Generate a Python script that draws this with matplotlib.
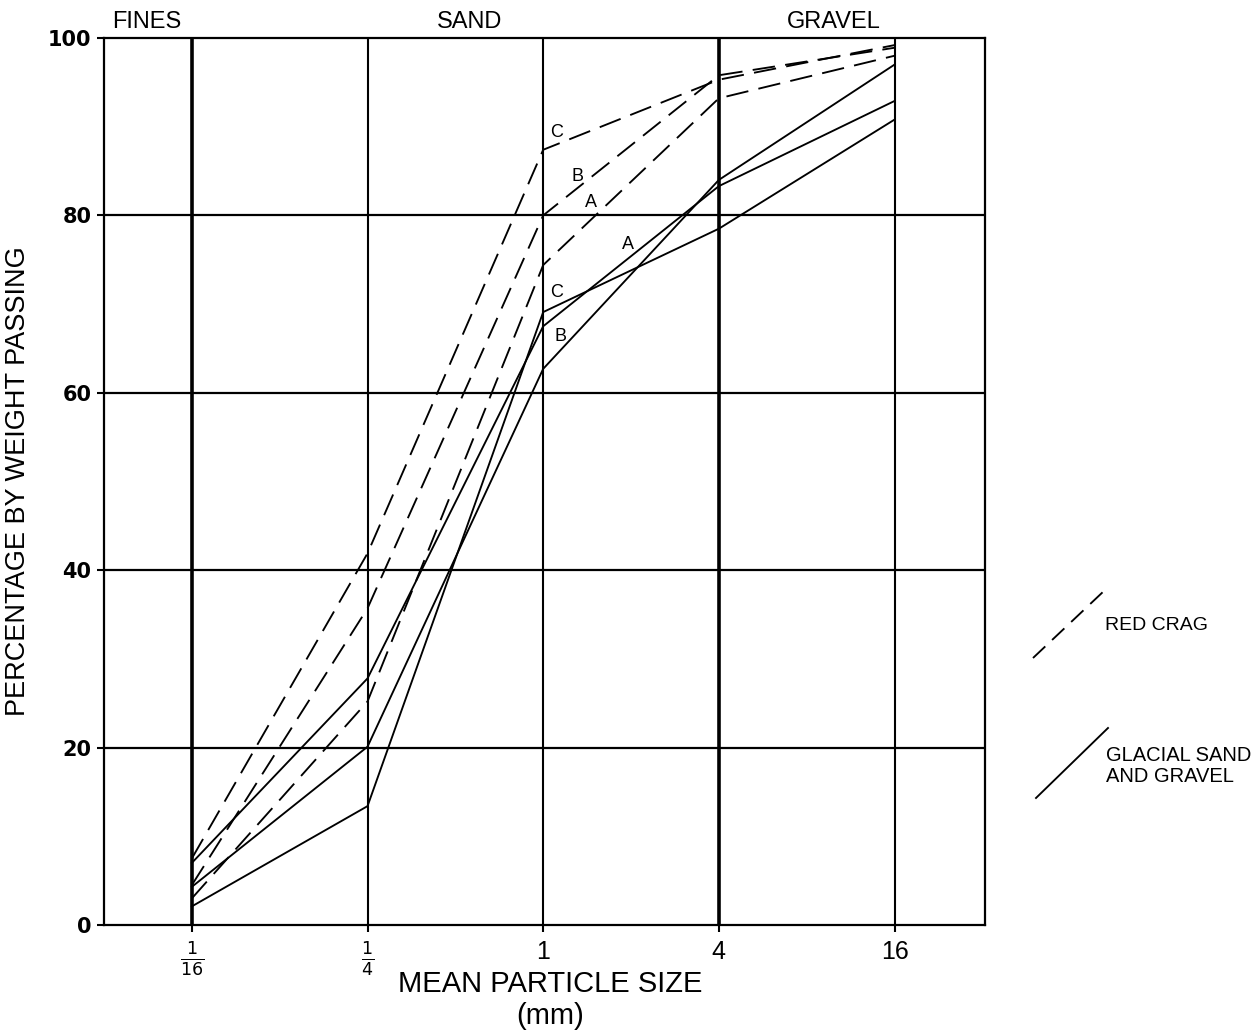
import matplotlib
matplotlib.use("Agg")
import matplotlib.pyplot as plt
from matplotlib.lines import Line2D

plt.rcParams['font.family'] = ['Liberation Sans', 'DejaVu Sans']

sizes = [1/16, 1/4, 1, 4, 16]
size_labels = [r'$\frac{1}{16}$', r'$\frac{1}{4}$', '1', '4', '16']

red_crag_a = [3.0, 25.2, 74.4, 93.2, 98.0]
red_crag_b = [4.5, 35.7, 80.0, 95.8, 98.9]
red_crag_c = [7.5, 41.9, 87.4, 95.3, 99.2]

glacial_a = [7.0, 27.8, 67.5, 83.3, 92.9]
glacial_b = [4.3, 20.1, 62.7, 84.0, 97.0]
glacial_c = [2.1, 13.4, 69.1, 78.5, 90.8]

y_ticks = [0, 20, 40, 60, 80, 100]

# label positions (x in mm, y in %)
red_labels = [('C', 1.11, 89.3), ('B', 1.31, 84.4), ('A', 1.46, 81.4)]
glacial_labels = [('A', 1.96, 76.7), ('C', 1.11, 71.3), ('B', 1.15, 66.4)]

fig = plt.figure(figsize=(12.59, 10.32), dpi=100)
ax = fig.add_axes([104/1259, 1 - 925/1032, (985-104)/1259, (925-38)/1032])
ax.set_xscale('log', base=2)
ax.set_xlim(1/32, 2**5.03)
ax.set_ylim(0, 100)

# grid
for v in [20, 40, 60, 80]:
    ax.axhline(v, color='black', lw=1.6, zorder=1)
for s in sizes:
    thick = s in (1/16, 4)
    ax.axvline(s, color='black', lw=2.6 if thick else 1.5, zorder=1)

dash = (0, (12, 5.5))
for series in (red_crag_a, red_crag_b, red_crag_c):
    ax.plot(sizes, series, color='black', lw=1.35, linestyle=dash, zorder=3)
for series in (glacial_a, glacial_b, glacial_c):
    ax.plot(sizes, series, color='black', lw=1.35, linestyle='-', zorder=3)

for t, x, y in red_labels + glacial_labels:
    ax.text(x, y, t, fontsize=13, ha='center', va='center', zorder=4)

for sp in ax.spines.values():
    sp.set_linewidth(1.6)

ax.set_xticks(sizes)
ax.set_xticklabels(size_labels)
ax.minorticks_off()
ax.set_yticks(y_ticks)
ax.set_yticklabels([str(v) for v in y_ticks])
ax.tick_params(axis='x', direction='out', length=5, width=1.5, labelsize=18, pad=6)
ax.tick_params(axis='y', direction='out', length=5, width=1.5, labelsize=15, pad=4)
for lab in ax.get_yticklabels():
    lab.set_family(['DejaVu Sans'])
    lab.set_fontweight('bold')

ax.set_ylabel('PERCENTAGE BY WEIGHT PASSING', fontsize=19.5, labelpad=12)
fig.text(550/1259, 1 - 1000/1032, 'MEAN PARTICLE SIZE\n(mm)', ha='center', va='center',
         fontsize=21, linespacing=1.2)

# header zone labels
for txt, px in [('FINES', 147), ('SAND', 470), ('GRAVEL', 834)]:
    fig.text(px/1259, 1 - 22/1032, txt, ha='center', va='center', fontsize=17)

# key
def fpx(x, y):
    return x/1259, 1 - y/1032

x0, y0 = fpx(1033, 658); x1, y1 = fpx(1105, 590)
fig.add_artist(Line2D([x0, x1], [y0, y1], color='black', lw=1.35, linestyle=(0, (9, 5))))
fig.text(*fpx(1105, 625), 'RED CRAG', ha='left', va='center', fontsize=14)
x0, y0 = fpx(1036, 798); x1, y1 = fpx(1108, 728)
fig.add_artist(Line2D([x0, x1], [y0, y1], color='black', lw=1.35))
fig.text(*fpx(1106, 766), 'GLACIAL SAND\nAND GRAVEL', ha='left', va='center', fontsize=14.5,
         linespacing=1.15)

fig.savefig('out.png', dpi=100)
